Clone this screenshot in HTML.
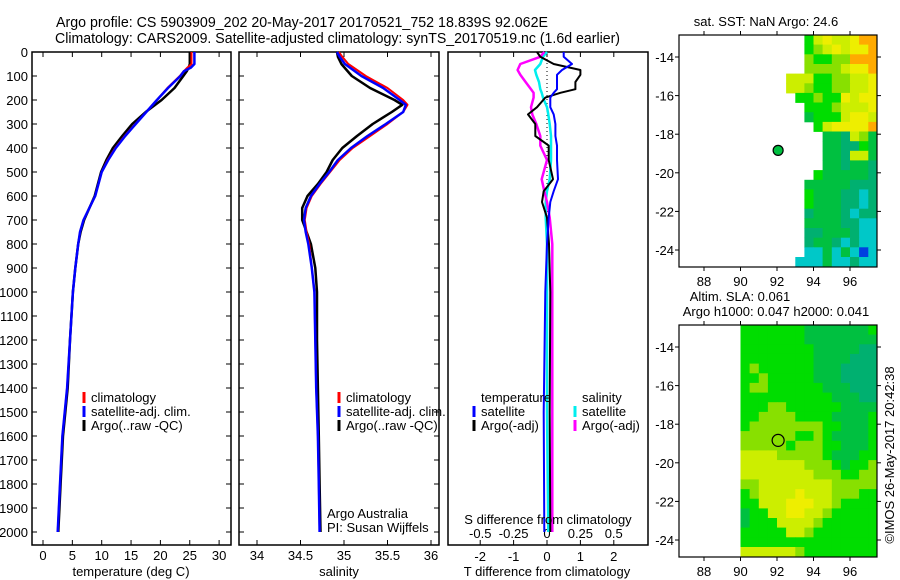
<!DOCTYPE html>
<html><head><meta charset="utf-8"><style>
body{margin:0;background:#fff;}
svg{display:block;font-family:"Liberation Sans",sans-serif;font-size:13px;}
</style></head><body>
<svg id="fig" width="900" height="580" viewBox="0 0 900 580">
<text x="56" y="27" font-size="14.5" textLength="492" lengthAdjust="spacingAndGlyphs">Argo profile: CS 5903909_202 20-May-2017 20170521_752 18.839S 92.062E</text>
<text x="55" y="43" font-size="14.5" textLength="565" lengthAdjust="spacingAndGlyphs">Climatology: CARS2009. Satellite-adjusted climatology: synTS_20170519.nc (1.6d earlier)</text>
<g id="g"></g>
</svg>
<script>
// ---- data ----
const depthT = [0,50,65,80,100,150,200,250,300,350,400,450,500,600,700,750,800,900,1000,1200,1400,1600,1800,2000];
const tempClim = [25.3,25.3,24.6,24.0,23.3,21.2,19.4,17.6,15.7,13.9,12.3,11.0,10.0,8.9,6.9,6.3,6.0,5.5,5.1,4.6,4.1,3.3,2.9,2.5];
const tempSat  = [25.8,25.8,25.2,24.0,23.4,21.3,19.4,17.6,15.8,14.0,12.4,11.1,10.0,8.9,6.9,6.3,6.0,5.5,5.1,4.6,4.1,3.3,2.9,2.5];
const tempArgo = [25.0,25.0,24.8,24.5,23.9,22.4,20.2,17.5,15.2,13.5,11.9,10.8,9.9,8.8,7.0,6.4,6.0,5.5,5.1,4.6,4.2,3.4,3.0,2.6];
const depthS = [0,20,50,100,150,200,220,250,300,350,400,450,500,550,600,650,700,750,800,900,1000,1200,1400,1600,1800,2000];
const salClim = [34.94,34.98,35.05,35.25,35.50,35.68,35.73,35.68,35.50,35.30,35.10,34.95,34.84,34.73,34.63,34.57,34.55,34.57,34.60,34.63,34.66,34.67,34.68,34.70,34.71,34.72];
const salSat  = [34.92,34.95,35.01,35.20,35.45,35.64,35.71,35.68,35.48,35.27,35.08,34.93,34.83,34.72,34.62,34.56,34.54,34.56,34.59,34.63,34.66,34.67,34.68,34.70,34.71,34.72];
const salArgo = [34.92,34.93,34.97,35.09,35.30,35.58,35.67,35.55,35.33,35.15,34.98,34.87,34.80,34.70,34.58,34.52,34.52,34.57,34.62,34.67,34.69,34.69,34.70,34.71,34.72,34.73];
const depthD = [0,20,50,75,95,125,155,170,190,230,260,300,350,390,450,530,580,625,690,800,1000,1500,2000];
const dTsat  = [0.5,0.5,0.75,0.45,0.3,0.3,0.3,0.2,0.1,0.1,0.2,0.25,0.25,0.3,0.3,0.33,0.2,0.1,0.05,0.0,-0.05,-0.1,-0.08];
const dTargo = [-0.3,-0.2,0.2,1.0,1.0,0.85,0.85,0.4,-0.05,-0.3,-0.57,-0.35,-0.35,0.05,0.05,0.18,-0.1,-0.15,0.0,0.06,0.1,0.08,0.1];
const dSsat  = [0.0,-0.03,-0.05,-0.09,-0.08,-0.06,-0.05,-0.04,-0.03,0.0,0.01,0.02,0.03,0.03,0.03,0.02,0.0,-0.01,-0.01,0.0,0.0,0.0,0.01];
const dSargo = [-0.02,-0.05,-0.2,-0.22,-0.2,-0.16,-0.12,-0.1,-0.1,-0.12,-0.11,-0.08,-0.05,-0.05,0.0,-0.04,-0.02,0.0,0.02,0.04,0.04,0.04,0.04];
const depthTicks = [0,100,200,300,400,500,600,700,800,900,1000,1100,1200,1300,1400,1500,1600,1700,1800,1900,2000];
const tempTicks = [0,5,10,15,20,25,30];
const salTicks = [34,34.5,35,35.5,36];
const salTickLabels = ["34","34.5","35","35.5","36"];
const dTTicks = [-2,-1,0,1,2];
const dSTicks = [-0.5,-0.25,0,0.25,0.5];
const dSTickLabels = ["-0.5","-0.25","0","0.25","0.5"];
const lonTicks = [88,90,92,94,96];
const latTicks = [-14,-16,-18,-20,-22,-24];
const argoLon = 92.062, argoLat = -18.839;
// SST grid: rows from lat -12.86 downward every 0.5 deg; columns lon 92.5..97.5 step 0.5; '.' = no data
const sstLon0 = 92.5;
const sstRows = ["..57877899","..56787889","..65566999","..66667889","7775566778","7765566778",".556558788","..55567778","..45557887","...5788889","....443764","....443354","....443774","....443443","...5444443","..44444333","..54443323","..54443323","..34443233","..44443322","..33444322","..34432322","..22424202",".222422322"];
// SLA grid: columns lon 90..97.5 step 0.5
const slaLon0 = 90;
const slaRows = ["555555544444445","555555544444444","555555554444433","555555554444333","565555554443333","556555554443333","566555555444333","555555555544433","555665555554444","556666555544445","566666666554445","666666556544445","666665666554445","777766666544455","777777766654556","777777776665566","667777777766666","567777877766655","557778887765555","455778877655555","455577776555555","555557765555555","555555555555555","777777655555555"];
const palette = ["#0040e0","#00a8f0","#00c8c8","#00b070","#00c040","#00dd00","#88e000","#ccee00","#eeee00","#ffaa00"];

// ---- helpers ----
const NS="http://www.w3.org/2000/svg";
const G=document.getElementById('g');
function el(tag,attrs,parent){const e=document.createElementNS(NS,tag);for(const k in attrs)e.setAttribute(k,attrs[k]);(parent||G).appendChild(e);return e;}
function txt(x,y,s,anchor,parent){const t=el('text',{x:x,y:y,'text-anchor':anchor||'start'},parent);t.textContent=s;return t;}
const yD=d=>52+0.24*d;
const xT=t=>43+5.87*t;
const xS=s=>257+87*(s-34);
const xDT=t=>547+33.4*t;
const xDS=s=>547+133.5*s;

function line(xs,ys,fx,color,w,name,dash){
  const pts=xs.map((v,i)=>fx(v).toFixed(1)+','+yD(ys[i]).toFixed(1)).join(' ');
  const p=el('polyline',{points:pts,fill:'none',stroke:color,'stroke-width':w,'stroke-linejoin':'round'});
  if(dash)p.setAttribute('stroke-dasharray',dash);
  
  
}
function frame(x0,x1,name){
  const r=el('rect',{x:x0,y:52,width:x1-x0,height:493,fill:'none',stroke:'#000','stroke-width':1.5});
  
  
}
function depthAxis(x0,x1,labels){
  depthTicks.forEach(d=>{
    const y=yD(d);
    el('line',{x1:x0,y1:y,x2:x0+5,y2:y,stroke:'#000'});
    el('line',{x1:x1-5,y1:y,x2:x1,y2:y,stroke:'#000'});
    if(labels){const t=txt(28,y+5,String(d),'end');
      
      }
  });
}
function xTicks(vals,labs,fx,y,labelY){
  vals.forEach((v,i)=>{
    const x=fx(v);
    el('line',{x1:x,y1:545,x2:x,y2:540,stroke:'#000'});
    el('line',{x1:x,y1:52,x2:x,y2:57,stroke:'#000'});
    const t=txt(x,labelY,labs[i],'middle');
    
    
  });
}
function legendBar(x,y,color,label,name){
  el('line',{x1:x,y1:y-10,x2:x,y2:y+1,stroke:color,'stroke-width':3});
  const t=txt(x+7,y,label);
  
  
}

// ---- panel 1: temperature ----
frame(32,231,'temperature-panel');
depthAxis(32,231,true);
xTicks(tempTicks,tempTicks.map(String),xT,545,560);
line(tempArgo,depthT,xT,'#000',2.5,'temperature-argo-line');
line(tempClim,depthT,xT,'#f00',2,'temperature-climatology-line');
line(tempSat,depthT,xT,'#00f',2.5,'temperature-satellite-line');
legendBar(84,402,'#f00','climatology','legend-climatology');
legendBar(84,416,'#00f','satellite-adj. clim.','legend-satellite');
legendBar(84,430,'#000','Argo(..raw -QC)','legend-argo');
{const t=txt(131,576,'temperature (deg C)','middle');}

// ---- panel 2: salinity ----
frame(239,439,'salinity-panel');
depthAxis(239,439,false);
xTicks(salTicks,salTickLabels,xS,545,560);
line(salArgo,depthS,xS,'#000',2.5,'salinity-argo-line');
line(salClim,depthS,xS,'#f00',2,'salinity-climatology-line');
line(salSat,depthS,xS,'#00f',2.5,'salinity-satellite-line');
legendBar(339,402,'#f00','climatology','legend-climatology-s');
legendBar(339,416,'#00f','satellite-adj. clim.','legend-satellite-s');
legendBar(339,430,'#000','Argo(..raw -QC)','legend-argo-s');
{let t=txt(327,518,'Argo Australia');
 t=txt(327,532,'PI: Susan Wijffels');
 t=txt(339,576,'salinity','middle');}

// ---- panel 3: differences ----
frame(448,648,'difference-panel');
el('line',{x1:547,y1:55,x2:547,y2:300,stroke:'#000','stroke-dasharray':'1,3'});
dTTicks.forEach(v=>{const x=xDT(v);el('line',{x1:x,y1:545,x2:x,y2:540,stroke:'#000'});el('line',{x1:x,y1:52,x2:x,y2:57,stroke:'#000'});
  const t=txt(x,561,String(v),'middle');});
dSTicks.forEach((v,i)=>{const t=txt(xDS(v),538,dSTickLabels[i],'middle');});
line(dSsat,depthD,xDS,'#0ee',2.5,'s-diff-satellite-line');
line(dSargo,depthD,xDS,'#f0f',2.5,'s-diff-argo-line');
line(dTargo,depthD,xDT,'#000',2,'t-diff-argo-line');
line(dTsat,depthD,xDT,'#00f',2,'t-diff-satellite-line');
{let t=txt(481,402,'temperature');
 t=txt(582,402,'salinity');}
legendBar(474,416,'#00f','satellite','legend-t-satellite');
legendBar(474,430,'#000','Argo(-adj)','legend-t-argo');
legendBar(575,416,'#0ee','satellite','legend-s-satellite');
legendBar(575,430,'#f0f','Argo(-adj)','legend-s-argo');
{let t=txt(548,524,'S difference from climatology','middle');
 t=txt(547,576,'T difference from climatology','middle');}

// ---- maps ----
function map(top,rows,lon0,name,filledDot){
  const x0=679,x1=877,y0=top,y1=top+232;
  const fx=lon=>704+18.25*(lon-88);
  const lat0=-12.86;
  const fy=lat=>y0+19.3*(lat0-lat);
  const gm=el('g',{});
  
  
  rows.forEach((row,r)=>{
    [...row].forEach((c,ci)=>{
      if(c==='.')return;
      const lon=lon0+0.5*ci, lat=lat0-0.5*r;
      const xa=fx(lon), xb=Math.min(fx(lon+0.5),x1);
      const ya=fy(lat), yb=Math.min(fy(lat-0.5),y1);
      const cell=el('rect',{x:xa.toFixed(1),y:ya.toFixed(1),width:(xb-xa+0.4).toFixed(1),height:(yb-ya+0.4).toFixed(1),fill:palette[+c]},gm);
      
      
    });
  });
  el('rect',{x:x0,y:y0,width:x1-x0,height:y1-y0,fill:'none',stroke:'#000','stroke-width':1.2});
  lonTicks.forEach(l=>{const x=fx(l);el('line',{x1:x,y1:y0,x2:x,y2:y0-4,stroke:'#000'});el('line',{x1:x,y1:y1,x2:x,y2:y1+4,stroke:'#000'});
    const t=txt(x,y1+19,String(l),'middle');});
  latTicks.forEach(l=>{const y=fy(l);el('line',{x1:x0,y1:y,x2:x0-4,y2:y,stroke:'#000'});el('line',{x1:x1,y1:y,x2:x1+4,y2:y,stroke:'#000'});
    const t=txt(674,y+5,String(l),'end');});
  const c=el('circle',{cx:fx(argoLon),cy:fy(argoLat),r:filledDot?5:6,fill:filledDot?'#00c040':'none',stroke:'#000','stroke-width':1.2});
  
  
}
map(35,sstRows,sstLon0,'sst-map',true);
map(325,slaRows,slaLon0,'sla-map',false);
{let t=txt(766,26,'sat. SST: NaN Argo: 24.6','middle');
 t=txt(740,301,'Altim. SLA: 0.061','middle');
 t=txt(776,316,'Argo h1000: 0.047 h2000: 0.041','middle');
 t=txt(0,0,'©IMOS 26-May-2017 20:42:38','middle');t.setAttribute('transform','translate(894,455) rotate(-90)');
 }
</script>
</body></html>
